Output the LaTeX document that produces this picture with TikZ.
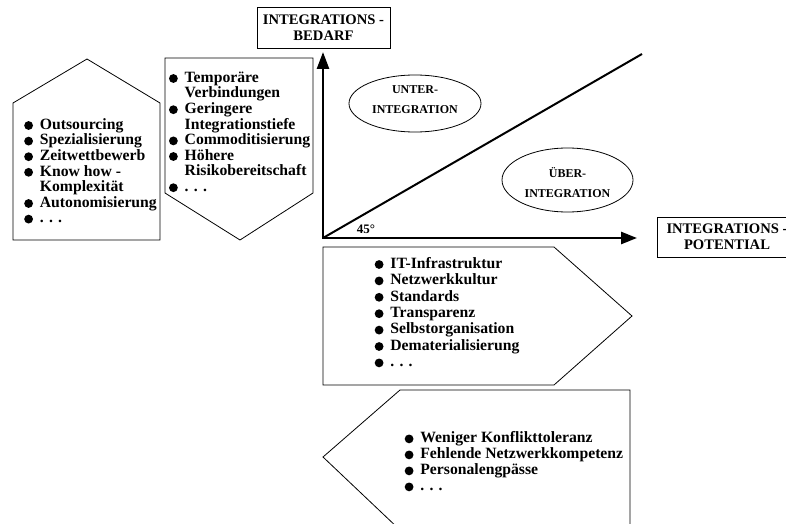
\documentclass[tikz,border=0pt]{standalone}
\usepackage{fontspec}
\setmainfont{Liberation Serif}
\usetikzlibrary{arrows.meta,shapes.geometric}

% round list bullet and hanging-indent list lines
\newcommand\bul{\makebox[15.7pt][l]{\tikz[baseline=-3.8pt]\fill (0,0) circle (4.4pt);}}
\newcommand\itm[1]{\hbox{\bul#1}}
\newcommand\cnt[1]{\hbox{\kern15.7pt#1}}
\newcommand\lst[2]{\vtop{\baselineskip=#1\lineskiplimit=-\maxdimen\lineskip=0pt #2}}

\tikzset{
  shapeline/.style={draw=black, line width=0.8pt, line join=miter},
  listtext/.style={inner sep=0pt, anchor=base west,
    font=\bfseries\fontsize{15.7}{15.7}\selectfont},
  axisline/.style={line width=2.6pt,
    {Triangle[length=17pt,width=12pt]}-{Triangle[length=16pt,width=12pt]}},
  headbox/.style={draw, line width=0.8pt, align=center, inner sep=0pt,
    font=\bfseries\fontsize{14.6}{16.2}\selectfont},
  zone/.style={ellipse, draw, line width=0.8pt, inner sep=0pt},
  zonetext/.style={align=center, inner sep=0pt,
    font=\bfseries\fontsize{12}{20}\selectfont},
}

\begin{document}
\begin{tikzpicture}[x=1pt, y=-1pt]
\useasboundingbox (0,0) rectangle (786,524);

% drivers: house-shaped and downward pentagons
\draw[shapeline] (13,103) -- (87,59) -- (160,103) -- (160,240) -- (13,240) -- cycle;
\draw[shapeline] (165,58) -- (313,58) -- (313,193) -- (240,240) -- (165,193) -- cycle;

% enablers and barriers: right- and left-pointing pentagons
\draw[shapeline] (323,247) -- (554,247) -- (632,316) -- (554,385) -- (323,385) -- cycle;
\draw[shapeline] (400,390) -- (630,390) -- (630,530) -- (400,530) -- (323,457) -- cycle;

% axes
\coordinate (O) at (323,238);
\coordinate (ytip) at (323,52);
\coordinate (xtip) at (637,238);
\draw[axisline] (ytip) -- (O) -- (xtip);
\coordinate (diagend) at (642,54);
\draw[line width=2pt] (O) -- (diagend);

\node[headbox, minimum width=133pt, minimum height=41pt] (bedarf) at (323.5,27.5)
  {INTEGRATIONS -\\BEDARF};
\node[headbox, minimum width=140pt, minimum height=40pt] (potential) at (727,237)
  {INTEGRATIONS -\\POTENTIAL};

\node[zone, minimum width=132pt, minimum height=57pt] (unter) at (415,103.5) {};
\node[zonetext] (untertext) at (415,99.5) {UNTER-\\INTEGRATION};
\node[zone, minimum width=131pt, minimum height=64pt] (ueber) at (567.5,180) {};
\node[zonetext] (uebertext) at (567.5,183) {ÜBER-\\INTEGRATION};

\node[inner sep=0pt, anchor=base west, font=\bfseries\fontsize{13}{13}\selectfont]
  (angle) at (356.7,233.3) {45°};

% lists
\node[listtext] (l1) at (24,129.3) {\lst{15.6pt}{%
  \itm{Outsourcing}\itm{Spezialisierung}\itm{Zeitwettbewerb}%
  \itm{Know how -}\cnt{Komplexität}\itm{Autonomisierung}\itm{. . .}}};
\node[listtext] (l2) at (168.8,82.3) {\lst{15.6pt}{%
  \itm{Temporäre}\cnt{Verbindungen}\itm{Geringere}\cnt{Integrationstiefe}%
  \itm{Commoditisierung}\itm{Höhere}\cnt{Risikobereitschaft}\itm{. . .}}};
\node[listtext] (l3) at (374.5,268.3) {\lst{16.4pt}{%
  \itm{IT-Infrastruktur}\itm{Netzwerkkultur}\itm{Standards}\itm{Transparenz}%
  \itm{Selbstorganisation}\itm{Dematerialisierung}\itm{. . .}}};
\node[listtext] (l4) at (404.5,442.7) {\lst{16pt}{%
  \itm{Weniger Konflikttoleranz}\itm{Fehlende Netzwerkkompetenz}%
  \itm{Personalengpässe}\itm{. . .}}};
\end{tikzpicture}
\end{document}
